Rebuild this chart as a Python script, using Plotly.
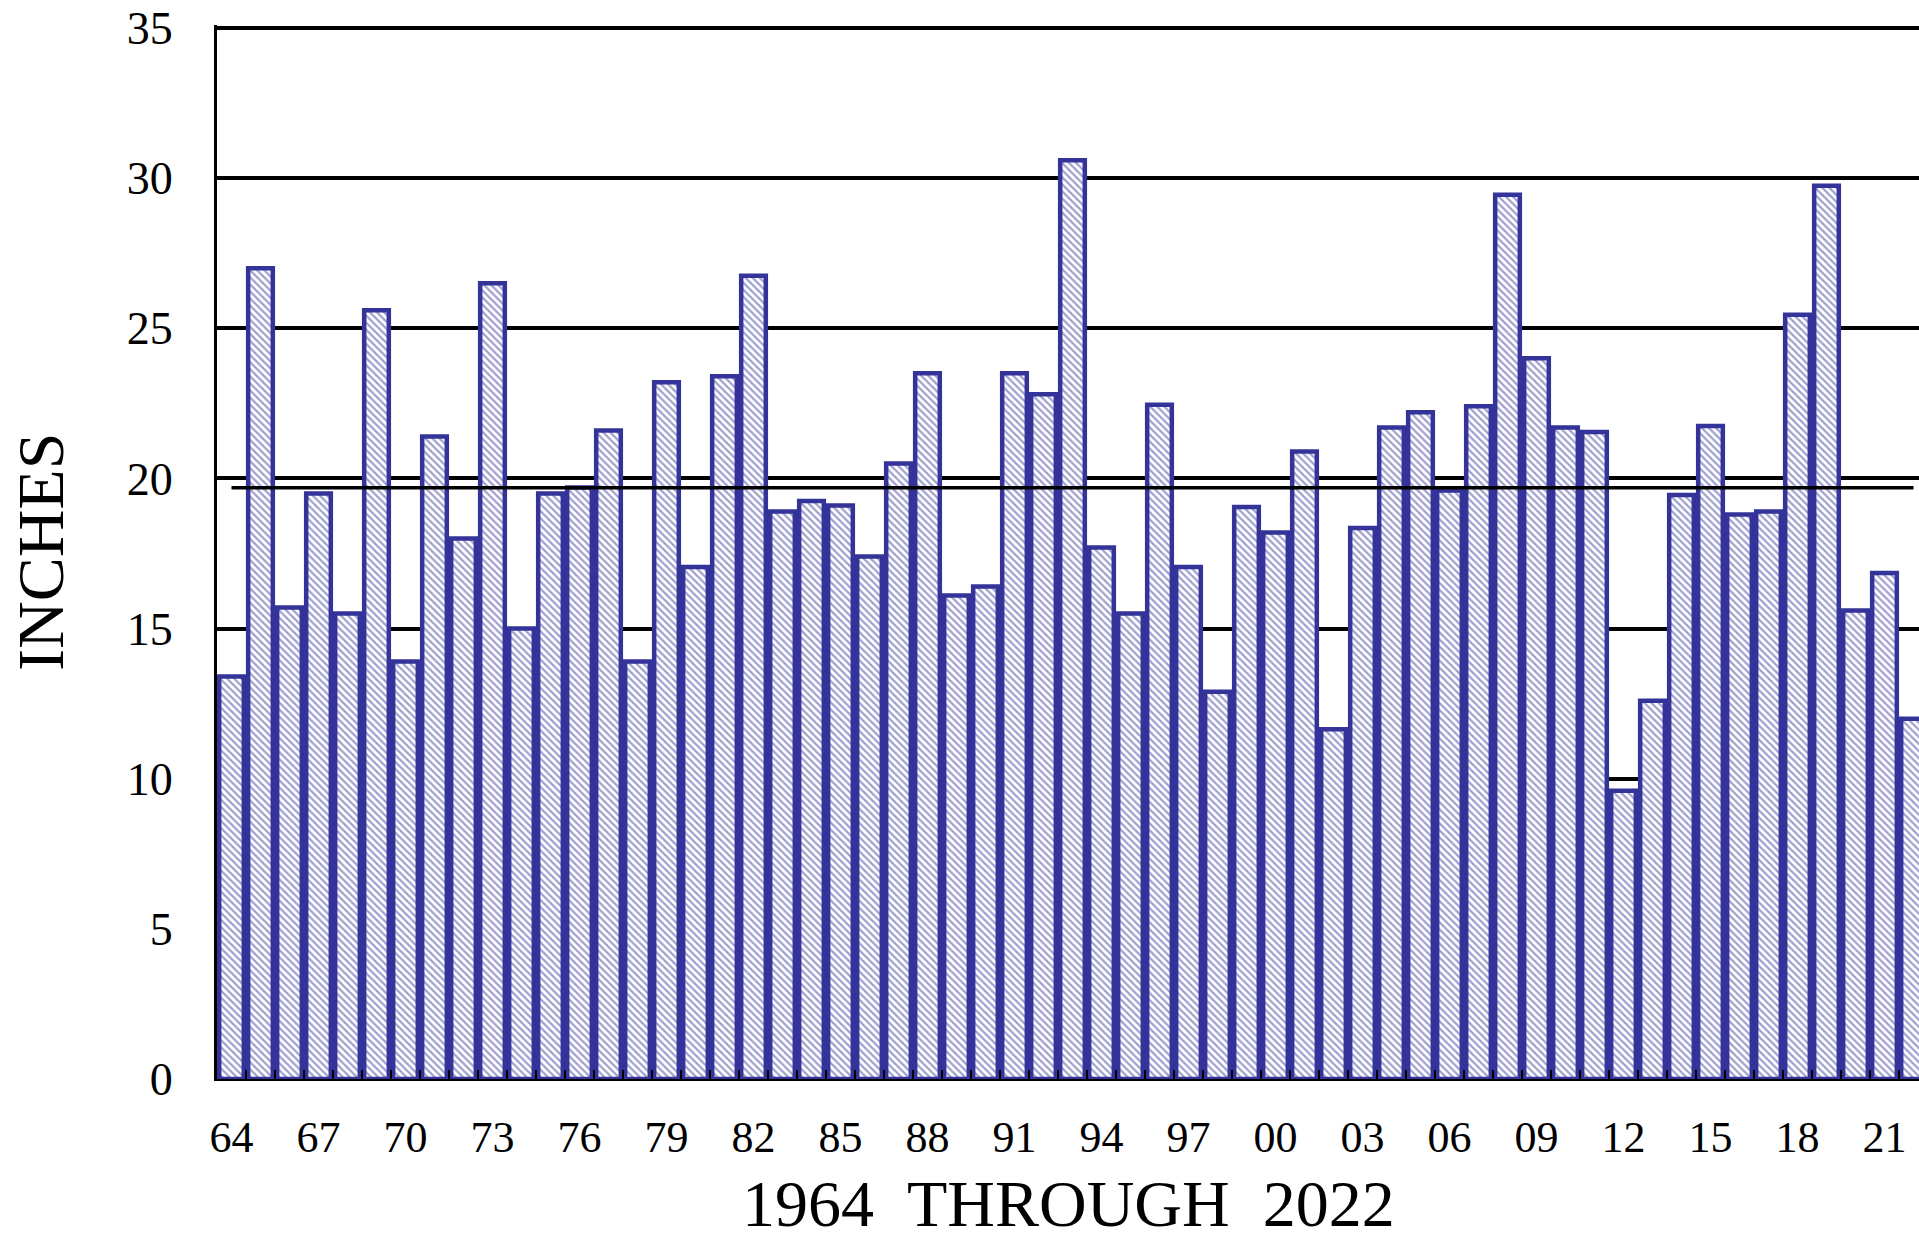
import plotly.graph_objects as go

# ---- data ----
years = list(range(1964, 2023))
values = [
    13.4, 27.0, 15.7, 19.5, 15.5, 25.6, 13.9, 21.4, 18.0, 26.5,
    15.0, 19.5, 19.7, 21.6, 13.9, 23.2, 17.05, 23.4, 26.75, 18.9,
    19.25, 19.1, 17.4, 20.5, 23.5, 16.1, 16.4, 23.5, 22.8, 30.6,
    17.7, 15.5, 22.45, 17.05, 12.9, 19.05, 18.2, 20.9, 11.65, 18.35,
    21.7, 22.2, 19.6, 22.4, 29.45, 24.0, 21.7, 21.55, 9.6, 12.6,
    19.45, 21.75, 18.8, 18.9, 25.45, 29.75, 15.6, 16.85, 12.0,
]
y_ticks = [0, 5, 10, 15, 20, 25, 30, 35]
categories = [str(y) for y in years]
x_labels = [f"{y % 100:02d}" if (y - years[0]) % 3 == 0 else "" for y in years]
x_title = "1964\u00a0\u00a0THROUGH\u00a0\u00a02022"
y_title = "INCHES"

mean_val = sum(values) / len(values)

FONT = "Times New Roman, Liberation Serif, serif"
BLUE = "#333399"

fig = go.Figure()
fig.add_bar(
    x=categories,
    y=values,
    width=0.85,
    marker=dict(
        color="white",
        line=dict(color=BLUE, width=4.5),
        pattern=dict(shape="\\", fgcolor="#3f3f9f", bgcolor="white",
                     size=5, solidity=0.45),
    ),
)
fig.add_scatter(
    x=[categories[0], categories[-1]],
    y=[mean_val, mean_val],
    mode="lines",
    line=dict(color="black", width=3.5),
)

fig.update_layout(
    width=1919,
    height=1237,
    margin=dict(l=217, r=0, t=25, b=158),
    paper_bgcolor="white",
    plot_bgcolor="white",
    showlegend=False,
    font=dict(family=FONT, color="black"),
    xaxis=dict(
        type="category",
        range=[-0.5, 58.19],
        tickmode="array",
        tickvals=categories,
        ticktext=x_labels,
        tickangle=0,
        tickson="boundaries",
        ticks="inside",
        ticklen=9,
        tickwidth=1.5,
        tickcolor="black",
        showline=True,
        linecolor="black",
        linewidth=2,
        showgrid=False,
        tickfont=dict(size=44, family=FONT, color="black"),
        ticklabelstandoff=18,
    ),
    yaxis=dict(
        range=[0, 35.1],
        tickmode="array",
        tickvals=y_ticks,
        ticktext=[str(v) for v in y_ticks],
        showgrid=True,
        gridcolor="black",
        gridwidth=3.5,
        showline=True,
        linecolor="black",
        linewidth=3,
        zeroline=False,
        ticks="",
        tickfont=dict(size=46, family=FONT, color="black"),
        ticklabelstandoff=32,
    ),
    annotations=[
        dict(text=x_title, xref="paper", yref="paper", x=0.5, y=0,
             xanchor="center", yanchor="middle", yshift=-124,
             showarrow=False, font=dict(size=66, family=FONT, color="black")),
        dict(text=y_title, xref="paper", yref="paper", x=0, y=0.5,
             xanchor="center", yanchor="middle", xshift=-177, textangle=-90,
             showarrow=False, font=dict(size=66, family=FONT, color="black")),
    ],
)

fig.write_html("out.html", config={"displayModeBar": False},
               post_script="document.body.style.margin='0';")
